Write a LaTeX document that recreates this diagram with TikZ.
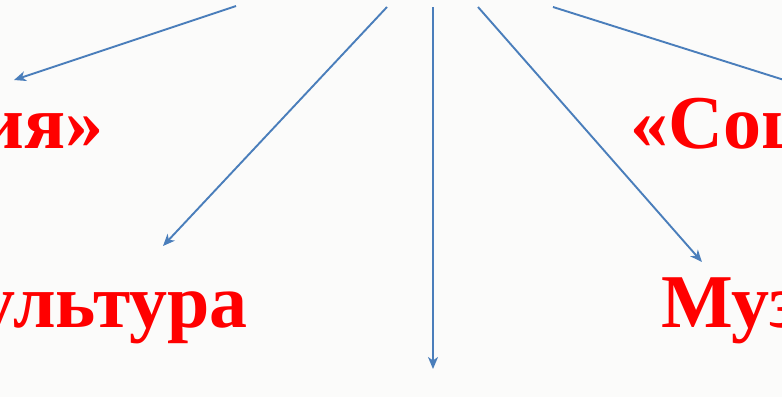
\documentclass[tikz,border=0pt]{standalone}
\usepackage{fontspec}
\setmainfont{Liberation Serif}
\usepackage{xcolor}
\usetikzlibrary{arrows.meta}
\definecolor{arrowblue}{RGB}{74,126,187}
\definecolor{paper}{RGB}{251,251,250}

\begin{document}
\begin{tikzpicture}[x=1pt, y=-1pt,
  arr/.style={draw=arrowblue, line width=1.9pt, -{Stealth[length=12pt,width=10pt,inset=3.5pt]}},
  word/.style={text=red, font=\fontsize{76}{80}\selectfont\bfseries, inner sep=0pt}]
\useasboundingbox (0,0) rectangle (782,397);
\clip (0,0) rectangle (782,397);
\fill[paper] (0,0) rectangle (782,397);

% labels, cut by the page edges
\node[word, anchor=base east] (ecol) at (104,148) {ия»};
\node[word, anchor=base west] (soc) at (630,148) {«Соц};
\node[word, anchor=base east] (cult) at (248,327) {ультура};
\node[word, anchor=base west] (mus) at (661,327) {Муз};

% arrows from the hub above the page
\foreach \n/\sx/\sy/\tx/\ty in {1/236/6/14/80,2/387/7/163/246,3/433/7/433/369,4/478/7/702/262,5/553/7/800/85} {
  \coordinate (s\n) at (\sx,\sy);
  \coordinate (t\n) at (\tx,\ty);
  \draw[arr] (s\n) -- (t\n); }
\end{tikzpicture}
\end{document}
